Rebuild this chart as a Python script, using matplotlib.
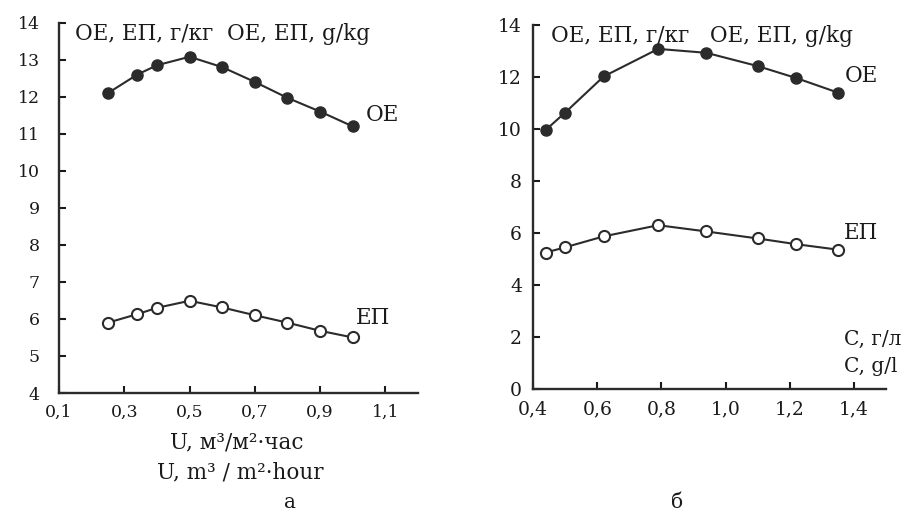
import matplotlib.pyplot as plt
import numpy as np

plt.rcParams['font.family'] = ['DejaVu Serif']

# panel a: flow rate U
u = [0.25, 0.34, 0.40, 0.50, 0.60, 0.70, 0.80, 0.90, 1.00]
oe_a = [12.1, 12.6, 12.85, 13.08, 12.8, 12.4, 11.97, 11.6, 11.2]
ep_a = [5.9, 6.13, 6.3, 6.49, 6.31, 6.1, 5.9, 5.68, 5.5]
xticks_a = [0.1, 0.3, 0.5, 0.7, 0.9, 1.1]
xlabels_a = ["0,1", "0,3", "0,5", "0,7", "0,9", "1,1"]
yticks_a = [4, 5, 6, 7, 8, 9, 10, 11, 12, 13, 14]

# panel б: concentration C
c = [0.44, 0.50, 0.62, 0.79, 0.94, 1.10, 1.22, 1.35]
oe_b = [9.97, 10.63, 12.02, 13.08, 12.93, 12.42, 11.96, 11.4]
ep_b = [5.25, 5.45, 5.87, 6.3, 6.06, 5.79, 5.57, 5.36]
xticks_b = [0.4, 0.6, 0.8, 1.0, 1.2, 1.4]
xlabels_b = ["0,4", "0,6", "0,8", "1,0", "1,2", "1,4"]
yticks_b = [0, 2, 4, 6, 8, 10, 12, 14]

col = "#2b2b2b"
tcol = "#1a1a1a"

fig = plt.figure(figsize=(9.14, 5.11), dpi=100)
ax1 = fig.add_axes([0.0646, 0.2309, 0.3927, 0.7247])
ax2 = fig.add_axes([0.5832, 0.2387, 0.3862, 0.7124])


def style(ax):
    for s in ["top", "right"]:
        ax.spines[s].set_visible(False)
    for s in ["left", "bottom"]:
        ax.spines[s].set_color(col)
        ax.spines[s].set_linewidth(1.7)
    ax.tick_params(direction="in", length=5, width=1.5, colors=tcol,
                   labelsize=12.5, pad=8)
    ax.patch.set_alpha(0)


# panel a
ax1.plot(u, oe_a, "-o", color=col, lw=1.5, ms=8, mfc=col, mec=col)
ax1.plot(u, ep_a, "-o", color=col, lw=1.5, ms=8, mfc="white", mec=col, mew=1.5)
ax1.set_xlim(0.1, 1.2)
ax1.set_ylim(4, 14)
ax1.set_xticks(xticks_a)
ax1.set_xticklabels(xlabels_a)
ax1.set_yticks(yticks_a)
style(ax1)
ax1.tick_params(axis="y", pad=14)
ax1.text(0.045, 0.97, "ОЕ, ЕП, г/кг  ОЕ, ЕП, g/kg", transform=ax1.transAxes,
         fontsize=15.5, ha="left", va="center", color=tcol)
ax1.text(1.04, 11.5, "ОЕ", fontsize=15.5, ha="left", va="center", color=tcol)
ax1.text(1.01, 6.02, "ЕП", fontsize=15.5, ha="left", va="center", color=tcol)

# panel б
ax2.plot(c, oe_b, "-o", color=col, lw=1.5, ms=8, mfc=col, mec=col)
ax2.plot(c, ep_b, "-o", color=col, lw=1.5, ms=8, mfc="white", mec=col, mew=1.5)
ax2.set_xlim(0.4, 1.5)
ax2.set_ylim(0, 14)
ax2.set_xticks(xticks_b)
ax2.set_xticklabels(xlabels_b)
ax2.set_yticks(yticks_b)
style(ax2)
ax2.tick_params(labelsize=13.5)
ax2.text(0.05, 0.97, "ОЕ, ЕП, г/кг   ОЕ, ЕП, g/kg", transform=ax2.transAxes,
         fontsize=15.5, ha="left", va="center", color=tcol)
ax2.text(1.37, 12.05, "ОЕ", fontsize=15.5, ha="left", va="center", color=tcol)
ax2.text(1.37, 6.0, "ЕП", fontsize=15.5, ha="left", va="center", color=tcol)
ax2.text(1.37, 1.92, "C, г/л", fontsize=14.5, ha="left", va="center", color=tcol)
ax2.text(1.37, 0.85, "C, g/l", fontsize=14.5, ha="left", va="center", color=tcol)

# axis caption of panel a and panel letters
fig.text(0.259, 0.134, "U, м³/м²·час", fontsize=15.5, ha="center", va="center",
         color=tcol)
fig.text(0.263, 0.076, "U, m³ / m²·hour", fontsize=15.5, ha="center", va="center",
         color=tcol)
fig.text(0.317, 0.017, "а", fontsize=14.5, ha="center", va="center", color=tcol)
fig.text(0.741, 0.017, "б", fontsize=14.5, ha="center", va="center", color=tcol)

fig.savefig("out.png", dpi=100, facecolor="white")
